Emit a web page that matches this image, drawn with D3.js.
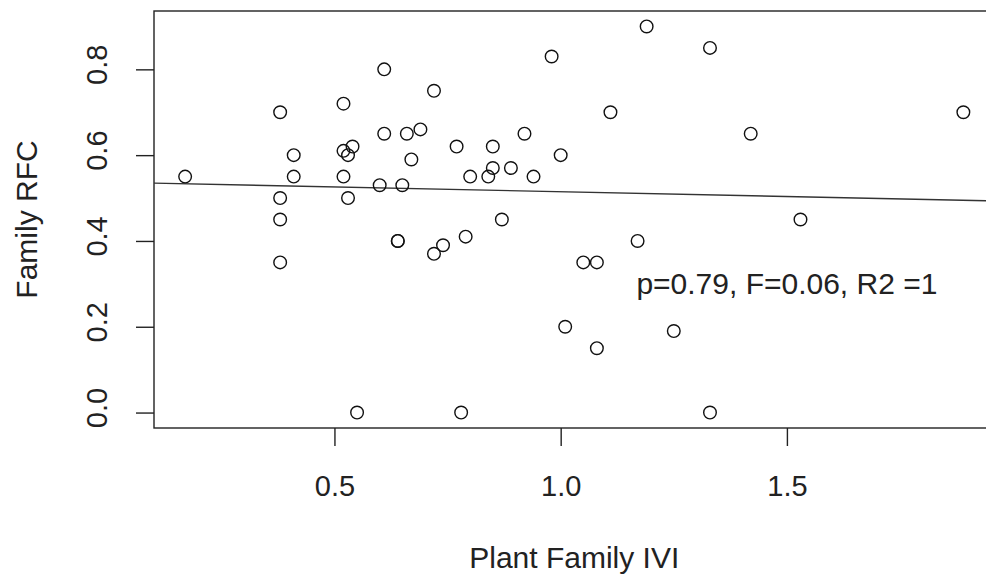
<!DOCTYPE html>
<html>
<head>
<meta charset="utf-8">
<script src="https://cdn.jsdelivr.net/npm/d3@7"></script>
<style>
  body { margin: 0; background: #fff; }
  svg text { font-family: "Liberation Sans", Arial, Helvetica, sans-serif; fill: #222; }
</style>
</head>
<body>
<svg id="chart"></svg>
<script>
// plant family IVI vs family RFC
var ivi = [0.17, 0.38, 0.38, 0.38, 0.38, 0.41, 0.41, 0.52, 0.52, 0.52,
           0.53, 0.53, 0.54, 0.55, 0.60, 0.61, 0.61, 0.64, 0.64, 0.65,
           0.66, 0.67, 0.69, 0.72, 0.72, 0.74, 0.77, 0.78, 0.79, 0.80,
           0.84, 0.85, 0.85, 0.87, 0.89, 0.92, 0.94, 0.98, 1.00, 1.01,
           1.05, 1.08, 1.08, 1.11, 1.17, 1.19, 1.25, 1.33, 1.33, 1.42,
           1.53, 1.89];
var rfc = [0.55, 0.70, 0.50, 0.45, 0.35, 0.60, 0.55, 0.72, 0.61, 0.55,
           0.60, 0.50, 0.62, 0.00, 0.53, 0.80, 0.65, 0.40, 0.40, 0.53,
           0.65, 0.59, 0.66, 0.75, 0.37, 0.39, 0.62, 0.00, 0.41, 0.55,
           0.55, 0.62, 0.57, 0.45, 0.57, 0.65, 0.55, 0.83, 0.60, 0.20,
           0.35, 0.35, 0.15, 0.70, 0.40, 0.90, 0.19, 0.85, 0.00, 0.65,
           0.45, 0.70];

var xTicks = [0.5, 1.0, 1.5];
var yTicks = [0.0, 0.2, 0.4, 0.6, 0.8];

// fitted line (abline) as drawn
var fitIntercept = 0.537;
var fitSlope = -0.0223;

var statsLabel = "p=0.79, F=0.06, R2 =1";
var statsAt = [1.5, 0.3];

var width = 986, height = 577;
var plotL = 154, plotR = 994.5, plotT = 11, plotB = 428;

var svg = d3.select("#chart")
    .attr("width", width)
    .attr("height", height);

// R style 4% padding around the data range
function padded(vals) {
    var ext = d3.extent(vals);
    var p = (ext[1] - ext[0]) * 0.04;
    return [ext[0] - p, ext[1] + p];
}

var x = d3.scaleLinear().domain(padded(ivi)).range([plotL, plotR]);
var y = d3.scaleLinear().domain(padded(rfc)).range([plotB, plotT]);

var points = ivi.map(function(v, i) { return { x: v, y: rfc[i] }; });

// axes
var yAxis = svg.append("g")
    .attr("transform", "translate(" + plotL + ",0)")
    .call(d3.axisLeft(y).tickValues(yTicks).tickSize(18).tickFormat(d3.format(".1f")));

var xAxis = svg.append("g")
    .attr("transform", "translate(0," + plotB + ")")
    .call(d3.axisBottom(x).tickValues(xTicks).tickSize(18).tickFormat(d3.format(".1f")));

[xAxis, yAxis].forEach(function(a) {
    a.select(".domain").remove();
    a.selectAll(".tick line").attr("stroke", "#222").attr("stroke-width", 1.4);
    a.selectAll(".tick text").attr("font-size", 29).attr("fill", "#222");
});

xAxis.selectAll(".tick text")
    .attr("y", 68)
    .attr("dy", null);

yAxis.selectAll(".tick text")
    .attr("transform", "rotate(-90)")
    .attr("text-anchor", "middle")
    .attr("x", 5)
    .attr("y", -47)
    .attr("dy", null);

// box
svg.append("rect")
    .attr("x", plotL)
    .attr("y", plotT)
    .attr("width", plotR - plotL)
    .attr("height", plotB - plotT)
    .attr("fill", "none")
    .attr("stroke", "#222")
    .attr("stroke-width", 1.4);

// regression line
var xd = x.domain();
svg.append("line")
    .attr("x1", x(xd[0]))
    .attr("y1", y(fitIntercept + fitSlope * xd[0]))
    .attr("x2", x(xd[1]))
    .attr("y2", y(fitIntercept + fitSlope * xd[1]))
    .attr("stroke", "#333")
    .attr("stroke-width", 1.4);

// points
svg.append("g")
    .selectAll("circle")
    .data(points)
    .enter().append("circle")
    .attr("cx", function(d) { return x(d.x); })
    .attr("cy", function(d) { return y(d.y); })
    .attr("r", 6.3)
    .attr("fill", "none")
    .attr("stroke", "#111")
    .attr("stroke-width", 1.4);

svg.append("text")
    .attr("x", x(statsAt[0]))
    .attr("y", y(statsAt[1]))
    .attr("text-anchor", "middle")
    .attr("dominant-baseline", "central")
    .attr("font-size", 30)
    .text(statsLabel);

// axis titles
svg.append("text")
    .attr("x", (plotL + plotR) / 2)
    .attr("y", 568)
    .attr("text-anchor", "middle")
    .attr("font-size", 30)
    .text("Plant Family IVI");

svg.append("text")
    .attr("transform", "translate(37," + ((plotT + plotB) / 2) + ") rotate(-90)")
    .attr("text-anchor", "middle")
    .attr("font-size", 30)
    .text("Family RFC");
</script>
</body>
</html>
